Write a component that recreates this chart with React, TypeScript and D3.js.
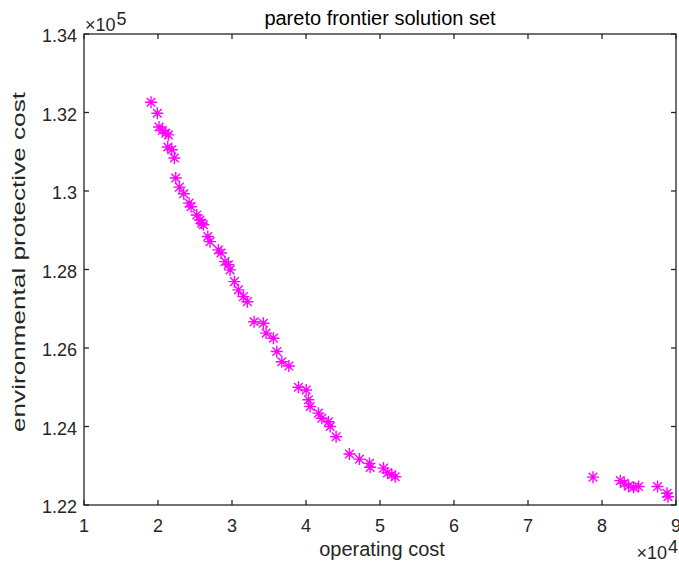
import React from "react";
import { scaleLinear, range } from "d3";

// operating cost (x 10^4)
const opCost = [
  1.906, 1.991, 2.014, 2.059, 2.105, 2.14, 2.132, 2.186, 2.221, 2.24, 2.289,
  2.348, 2.42, 2.447, 2.524, 2.568, 2.591, 2.613, 2.673, 2.704, 2.816, 2.852,
  2.906, 2.951, 2.974, 3.032, 3.086, 3.154, 3.208, 3.299, 3.424, 3.461, 3.56,
  3.605, 3.673, 3.768, 3.898, 4.002, 4.033, 4.056, 4.168, 4.214, 4.303, 4.326,
  4.407, 4.587, 4.722, 4.858, 4.867, 5.047, 5.101, 5.16, 5.205, 7.878, 8.247,
  8.301, 8.359, 8.427, 8.495, 8.751, 8.879, 8.892,
];

// environmental protective cost (x 10^5)
const envCost = [
  1.3226, 1.3198, 1.3163, 1.3154, 1.3147, 1.3143, 1.3112, 1.3105, 1.3084,
  1.3033, 1.301, 1.2993, 1.2969, 1.296, 1.2939, 1.2926, 1.2918, 1.2914, 1.2884,
  1.2871, 1.285, 1.2842, 1.282, 1.2812, 1.2799, 1.2769, 1.2748, 1.2731, 1.2718,
  1.2667, 1.2663, 1.2638, 1.2625, 1.2591, 1.2565, 1.2554, 1.25, 1.2493, 1.2468,
  1.2451, 1.2434, 1.2421, 1.2412, 1.24, 1.2374, 1.233, 1.2317, 1.2306, 1.2296,
  1.2294, 1.2282, 1.2277, 1.2272, 1.2271, 1.2262, 1.2255, 1.2248, 1.2245,
  1.2247, 1.2247, 1.223, 1.2221,
];

const xTicks = range(1, 10);
const yTicks = [1.22, 1.24, 1.26, 1.28, 1.3, 1.32, 1.34];

const W = 679;
const H = 567;
const margin = { left: 84, right: 3, top: 34, bottom: 62 };
const axisColor = "#262626";
const font = "'Liberation Sans', Arial, Helvetica, sans-serif";

export default function App() {
  const x = scaleLinear().domain([1, 9]).range([margin.left, W - margin.right]);
  const y = scaleLinear().domain([1.22, 1.34]).range([H - margin.bottom, margin.top]);
  const x0 = margin.left;
  const x1 = W - margin.right;
  const y0 = H - margin.bottom;
  const y1 = margin.top;
  const tl = 5;
  const r = 6;
  const d = r * 0.72;
  const star = `M0,${-r}V${r}M${-r},0H${r}M${-d},${-d}L${d},${d}M${-d},${d}L${d},${-d}`;

  return (
    <svg
      width={W}
      height={H}
      style={{ position: "absolute", left: 0, top: 0, background: "#fff" }}
      fontFamily={font}
    >
      {/* box */}
      <rect x={x0} y={y1} width={x1 - x0} height={y0 - y1} fill="none" stroke={axisColor} strokeWidth={1.3} />

      {/* x ticks */}
      {xTicks.map((t) => (
        <g key={"x" + t}>
          <line x1={x(t)} x2={x(t)} y1={y0} y2={y0 - tl} stroke={axisColor} strokeWidth={1.3} />
          <line x1={x(t)} x2={x(t)} y1={y1} y2={y1 + tl} stroke={axisColor} strokeWidth={1.3} />
          <text x={x(t)} y={y0 + 27} textAnchor="middle" fontSize={18} fill={axisColor}>
            {t}
          </text>
        </g>
      ))}

      {/* y ticks */}
      {yTicks.map((t) => (
        <g key={"y" + t}>
          <line x1={x0} x2={x0 + tl} y1={y(t)} y2={y(t)} stroke={axisColor} strokeWidth={1.3} />
          <line x1={x1} x2={x1 - tl} y1={y(t)} y2={y(t)} stroke={axisColor} strokeWidth={1.3} />
          <text x={x0 - 7} y={y(t) + 8} textAnchor="end" fontSize={18} fill={axisColor}>
            {String(t)}
          </text>
        </g>
      ))}

      {/* exponents */}
      <text x={x0 + 1} y={31} fontSize={18} fill={axisColor}>
        ×10<tspan dx={1} dy={-6}>5</tspan>
      </text>
      <text x={W - 1} y={559} textAnchor="end" fontSize={18} fill={axisColor}>
        ×10<tspan dx={1} dy={-6}>4</tspan>
      </text>

      {/* title and labels */}
      <text x={(x0 + x1) / 2} y={25} textAnchor="middle" fontSize={20} fill="#000">
        pareto frontier solution set
      </text>
      <text x={(x0 + x1) / 2 + 2} y={556} textAnchor="middle" fontSize={20} fill={axisColor}>
        operating cost
      </text>
      <text
        transform={`translate(25,262) rotate(-90)`}
        textAnchor="middle"
        fontSize={19}
        textLength={340}
        lengthAdjust="spacingAndGlyphs"
        fill={axisColor}
      >
        environmental protective cost
      </text>

      {/* points */}
      {opCost.map((v, i) => (
        <path
          key={i}
          d={star}
          transform={`translate(${x(v)},${y(envCost[i])})`}
          stroke="#ff00ff"
          strokeWidth={1.4}
          fill="none"
        />
      ))}
    </svg>
  );
}
